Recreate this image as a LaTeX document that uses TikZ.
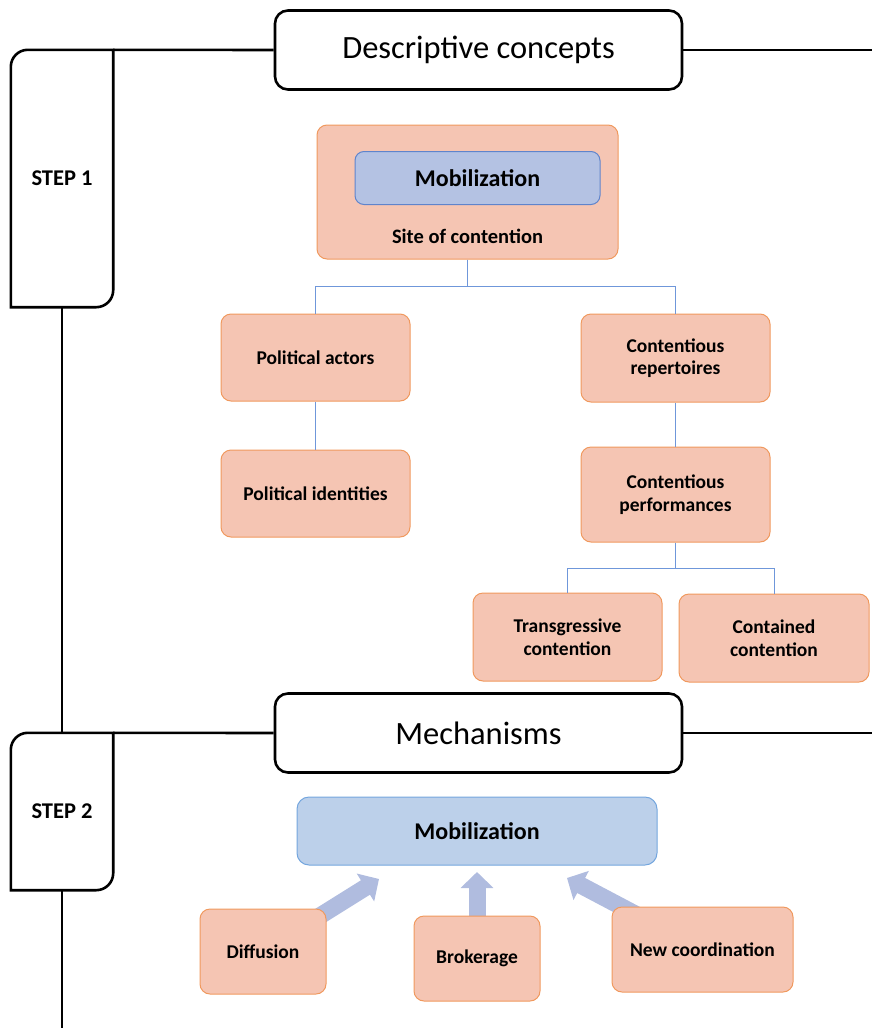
\documentclass[tikz,border=0pt]{standalone}
\usepackage{fontspec}
\setmainfont{Carlito}
\usetikzlibrary{arrows.meta,calc,backgrounds}
\definecolor{salmon}{HTML}{F5C5B3}
\definecolor{salmonline}{HTML}{F0995E}
\definecolor{innerblue}{HTML}{B4C2E3}
\definecolor{innerblueline}{HTML}{5F84CC}
\definecolor{mobblue}{HTML}{BCD0EA}
\definecolor{mobblueline}{HTML}{74A6DE}
\definecolor{connblue}{HTML}{6F97DA}
\definecolor{arrowblue}{HTML}{B0BCDF}
\begin{document}
\begin{tikzpicture}[x=1pt,y=-1pt,
  frame/.style={line width=2.6pt, black},
  header/.style={draw, line width=2.6pt, rounded corners=13pt, fill=white, minimum width=407pt, minimum height=79pt, inner sep=0pt, font=\fontsize{32.5}{38}\selectfont},
  steptext/.style={minimum width=102pt, inner sep=0pt, font=\fontsize{22.5}{26}\selectfont\bfseries},
  concept/.style={draw=salmonline, fill=salmon, line width=1pt, rounded corners=10pt, minimum width=189pt, minimum height=87pt, align=center, inner sep=0pt, font=\fontsize{19.5}{22.5}\selectfont\bfseries},
  conn/.style={draw=connblue, line width=1pt},
  mecharrow/.style={draw=arrowblue, line width=17pt, -{Triangle[length=16pt,width=32pt]}},
]
\useasboundingbox (0,0) rectangle (871,1028);

% ---- step 1 ----
\node[steptext, minimum height=257pt] (step1) at (62,178.5) {STEP 1};
\node[header] (head1) at (478.5,50) {Descriptive concepts};
\coordinate (e1) at (873,50);
\draw[frame] (step1.south west) -- ($(step1.north west)+(0,17)$) arc[start angle=180,end angle=270,radius=17] -- (step1.north east) -- ($(step1.south east)+(0,-17)$) arc[start angle=0,end angle=90,radius=17] -- cycle;
\draw[frame] (step1.north east) -- (head1.west);
\draw[frame] (head1.east) -- (e1);

\node[concept, minimum width=301pt, minimum height=134pt] (site) at (467.5,192) {};
\node[draw=innerblueline, fill=innerblue, line width=1pt, rounded corners=9pt, minimum width=245pt, minimum height=53pt, inner sep=0pt, font=\fontsize{24}{28}\selectfont\bfseries] (mob1) at (477.5,178) {Mobilization};
\node[inner sep=0pt, font=\fontsize{20.5}{24}\selectfont\bfseries] (sitelabel) at (467.5,236) {Site of contention};

\node[concept] (actors) at (315.5,357.5) {Political actors};
\node[concept] (ident) at (315.5,493.5) {Political identities};
\node[concept, minimum height=88pt] (rep) at (675.5,358) {Contentious\\repertoires};
\node[concept, minimum height=95pt] (perf) at (675.5,494.5) {Contentious\\performances};
\node[concept, minimum height=88pt] (trans) at (567.5,637) {Transgressive\\contention};
\node[concept, minimum width=190pt, minimum height=88pt] (cont) at (774,638) {Contained\\contention};

\draw[conn] (site.south) -- ++(0,27) -| (actors.north);
\draw[conn] (site.south) -- ++(0,27) -| (rep.north);
\draw[conn] (actors.south) -- (ident.north);
\draw[conn] (rep.south) -- (perf.north);
\draw[conn] (perf.south) -- ++(0,26) -| (trans.north);
\draw[conn] (perf.south) -- ++(0,26) -| (cont.north);

% ---- step 2 ----
\node[steptext, minimum height=157pt] (step2) at (62,811.5) {STEP 2};
\node[header] (head2) at (478.5,733) {Mechanisms};
\coordinate (e2) at (873,733);
\coordinate (e3) at (62,1032);
\draw[frame] (step2.south west) -- ($(step2.north west)+(0,17)$) arc[start angle=180,end angle=270,radius=17] -- (step2.north east) -- ($(step2.south east)+(0,-17)$) arc[start angle=0,end angle=90,radius=17] -- cycle;
\draw[frame] (step1.south) -- (step2.north);
\draw[frame] (step2.north east) -- (head2.west);
\draw[frame] (head2.east) -- (e2);
\draw[frame] (step2.south) -- (e3);

\node[draw=mobblueline, fill=mobblue, line width=1pt, rounded corners=12pt, minimum width=360pt, minimum height=68pt, inner sep=0pt, font=\fontsize{24}{28}\selectfont\bfseries] (mob2) at (477,831) {Mobilization};

\node[concept, minimum width=126pt, minimum height=85pt] (diff) at (263,951.5) {Diffusion};
\node[concept, minimum width=126pt, minimum height=85pt] (brok) at (477,958.5) {Brokerage};
\node[concept, minimum width=181pt, minimum height=85pt] (newc) at (702.5,949.5) {New coordination};

\coordinate (tipD) at (379,879);
\coordinate (tipB) at (477,872);
\coordinate (tipN) at (567,878);
\begin{scope}[on background layer]
\draw[mecharrow] (diff.center) -- (tipD);
\draw[mecharrow] (brok.center) -- (tipB);
\draw[mecharrow] (newc.center) -- (tipN);
\end{scope}
\end{tikzpicture}
\end{document}
